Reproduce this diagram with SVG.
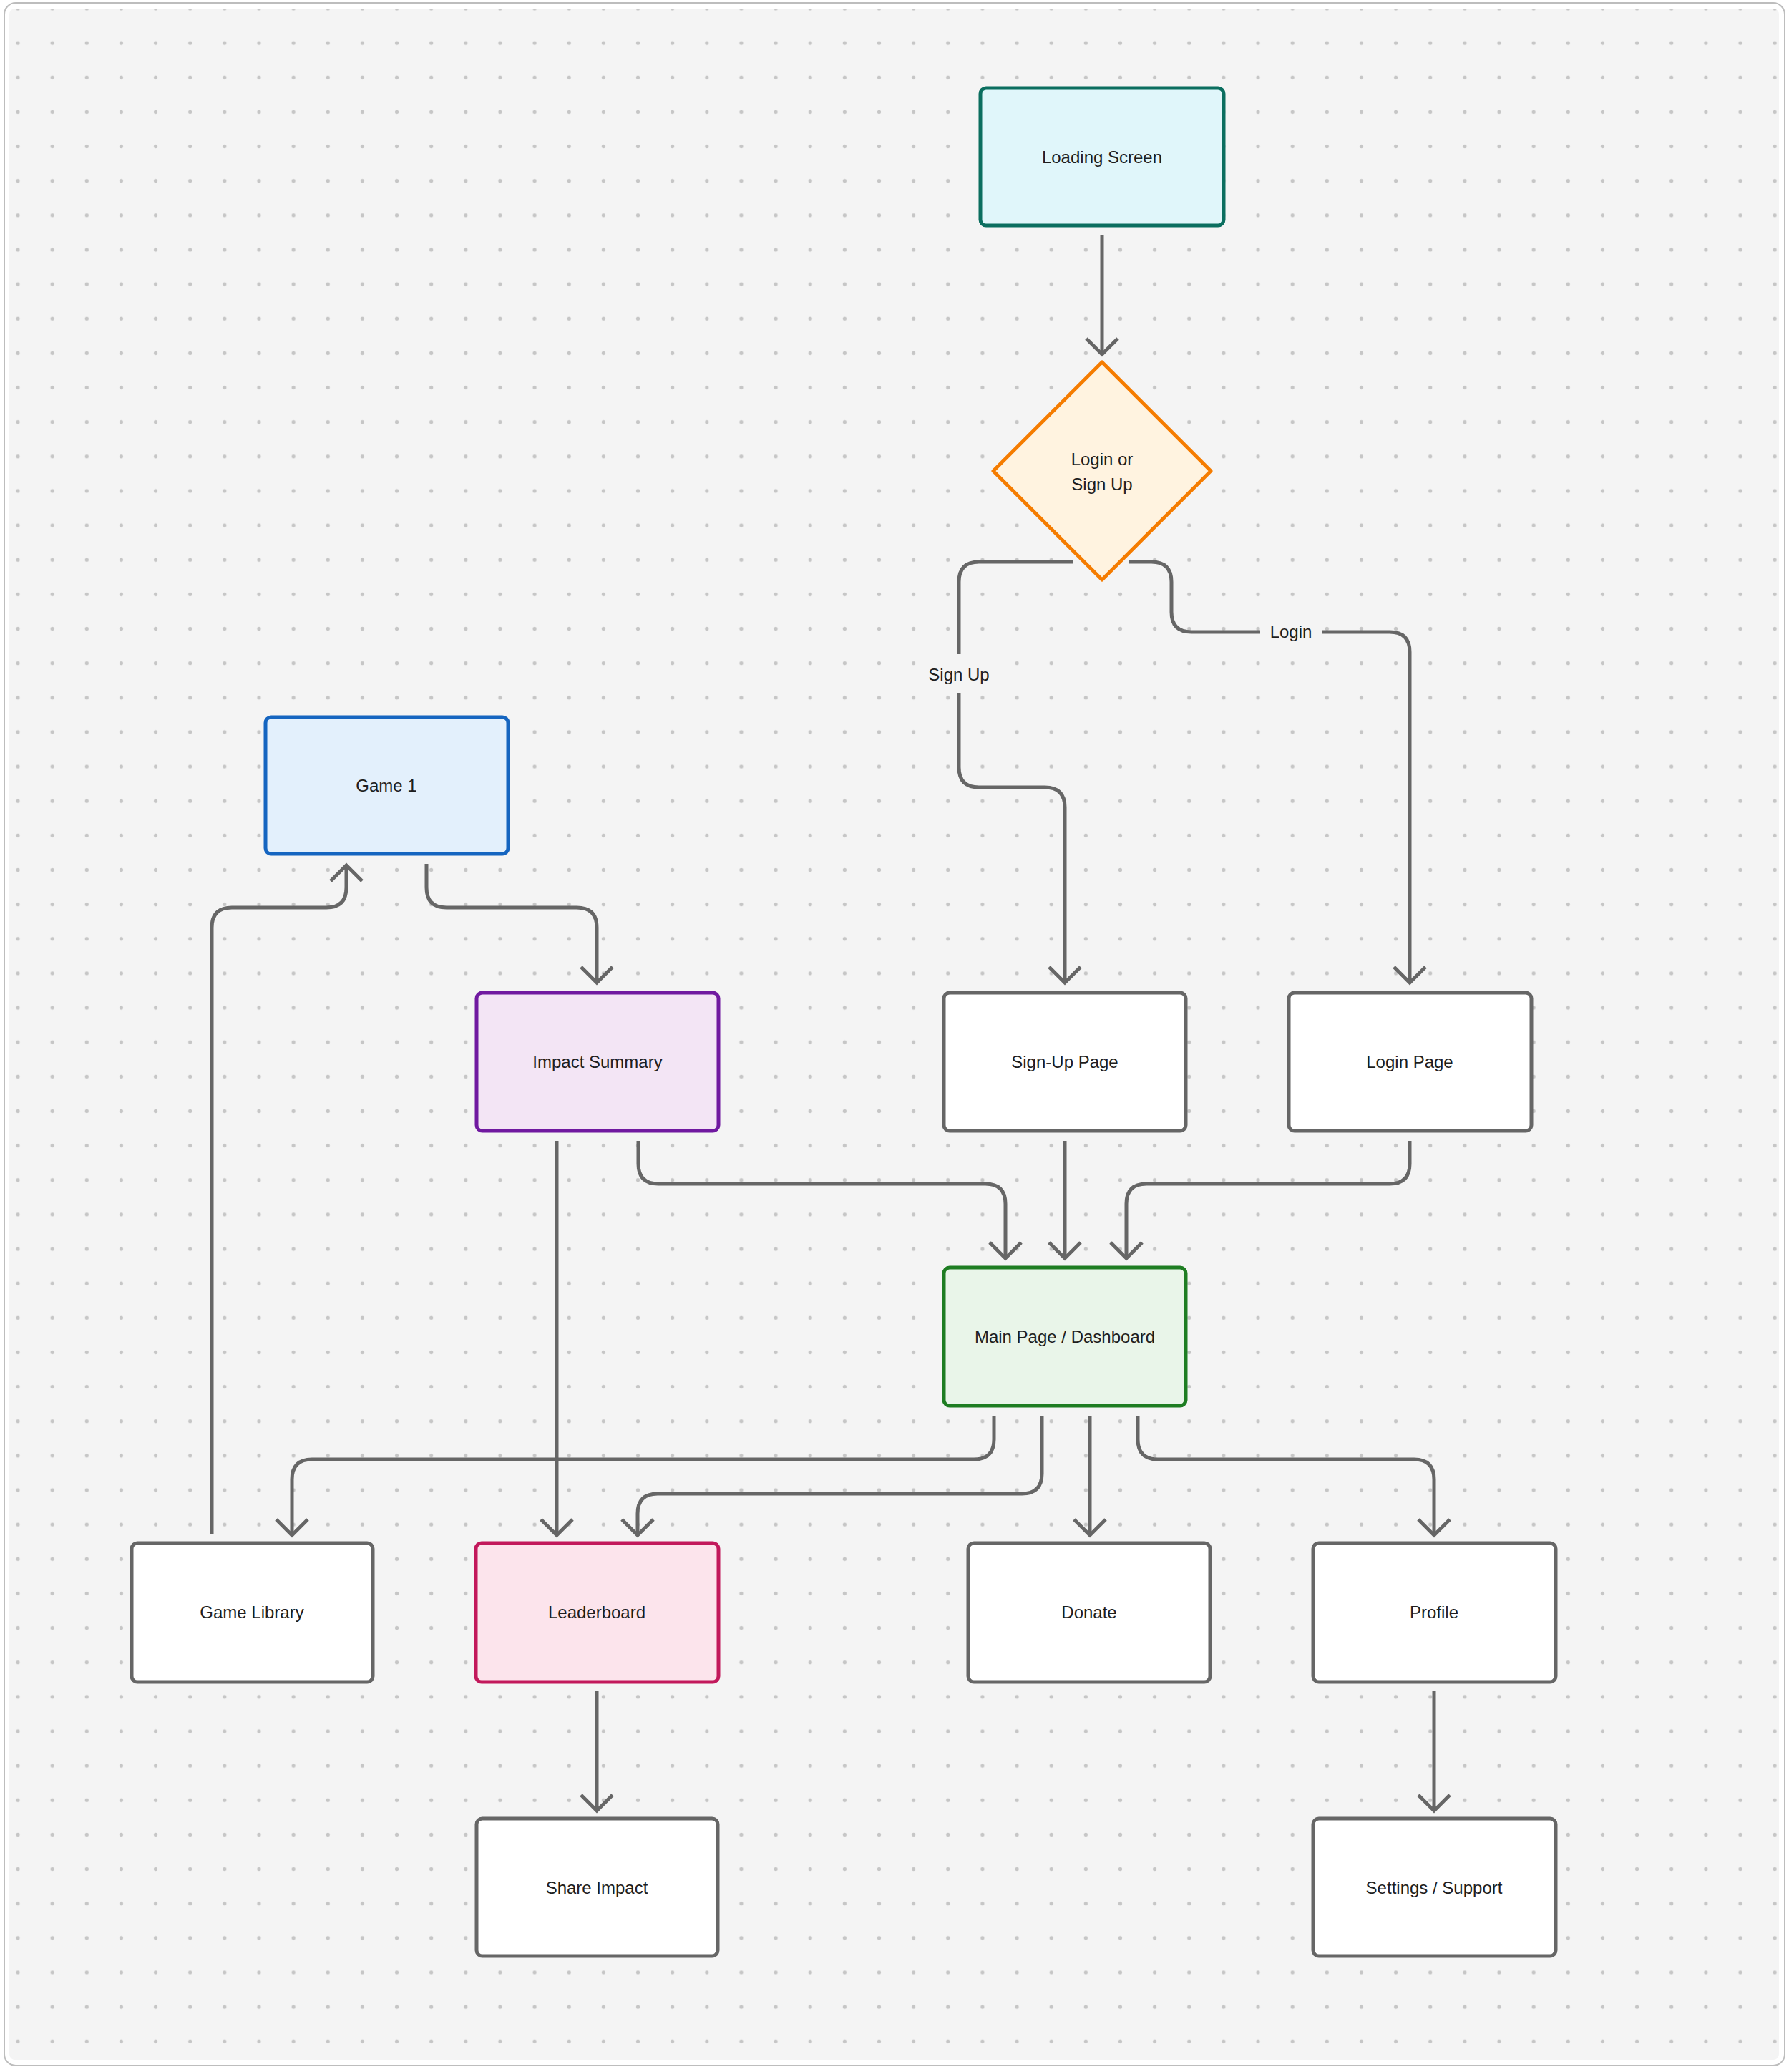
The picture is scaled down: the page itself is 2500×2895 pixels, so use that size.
<svg xmlns="http://www.w3.org/2000/svg" width="2500" height="2895" viewBox="0 0 2500 2895">
  <defs>
    <pattern id="dots" patternUnits="userSpaceOnUse" x="0.93" y="-12.07" width="48.14" height="48.14">
      <circle cx="24.07" cy="24.07" r="2.6" fill="#c6c6c6"/>
    </pattern>
    <marker id="arrow" markerUnits="userSpaceOnUse" markerWidth="60" markerHeight="60" refX="0" refY="0" viewBox="-30 -30 60 60" orient="auto" overflow="visible">
      <path d="M-22,-22 L0,0 L-22,22" fill="none" stroke="#666666" stroke-width="5" stroke-linejoin="miter"/>
    </marker>
  </defs>
  <style>
    .node rect, .node path.shape { stroke-width: 5; }
    .plain { fill: #ffffff; stroke: #666666; }
    .label { font-family: "Liberation Sans", Arial, sans-serif; font-size: 24px; fill: #1e1e1e; text-anchor: middle; }
    .edge { fill: none; stroke: #666666; stroke-width: 5; marker-end: url(#arrow); }
    .elabel-bg { fill: #f4f4f4; }
  </style>

  <!-- frame and background -->
  <rect x="0" y="0" width="2500" height="2895" fill="#ffffff"/>
  <rect x="6" y="4" width="2488" height="2882" rx="16" fill="#ffffff" stroke="#bdbdbd" stroke-width="2"/>
  <rect x="13" y="12" width="2473" height="2866" rx="8" fill="#f4f4f4"/>
  <rect x="13" y="12" width="2473" height="2866" rx="8" fill="url(#dots)"/>

  <!-- connectors -->
  <g id="connectors">
    <path class="edge" d="M1540,329 V495"/>
    <path class="edge" d="M1500,785 H1368 Q1340,785 1340,813 V1072 Q1340,1100 1368,1100 H1460 Q1488,1100 1488,1128 V1373"/>
    <path class="edge" d="M1578,785 H1609 Q1637,785 1637,813 V855 Q1637,883 1665,883 H1942 Q1970,883 1970,911 V1373"/>
    <path class="edge" d="M596,1207 V1240 Q596,1268 624,1268 H806 Q834,1268 834,1296 V1373"/>
    <path class="edge" d="M296,2143 V1296 Q296,1268 324,1268 H456 Q484,1268 484,1240 V1209"/>
    <path class="edge" d="M892,1594 V1626 Q892,1654 920,1654 H1377 Q1405,1654 1405,1682 V1758"/>
    <path class="edge" d="M1488,1594 V1758"/>
    <path class="edge" d="M1970,1594 V1626 Q1970,1654 1942,1654 H1602 Q1574,1654 1574,1682 V1758"/>
    <path class="edge" d="M778,1594 V2145"/>
    <path class="edge" d="M1389,1978 V2011 Q1389,2039 1361,2039 H436 Q408,2039 408,2067 V2145"/>
    <path class="edge" d="M1456,1978 V2059 Q1456,2087 1428,2087 H919 Q891,2087 891,2115 V2145"/>
    <path class="edge" d="M1523,1978 V2145"/>
    <path class="edge" d="M1590,1978 V2011 Q1590,2039 1618,2039 H1976 Q2004,2039 2004,2067 V2145"/>
    <path class="edge" d="M834,2363 V2530"/>
    <path class="edge" d="M2004,2363 V2530"/>
    <g id="edge-labels">
      <rect class="elabel-bg" x="1290" y="914" width="100" height="54"/>
      <text class="label" x="1340" y="951">Sign Up</text>
      <rect class="elabel-bg" x="1761" y="866" width="86" height="34"/>
      <text class="label" x="1804" y="891">Login</text>
    </g>
  </g>

  <!-- nodes -->
  <g id="node-loading" class="node">
    <rect x="1370" y="123" width="340" height="192" rx="8" fill="#e0f6fa" stroke="#0b6e5f"/>
    <text class="label" x="1540" y="228">Loading Screen</text>
  </g>
  <g id="node-decision" class="node">
    <path class="shape" d="M1540,506 L1692,658 L1540,810 L1388,658 Z" fill="#fff3e0" stroke="#f57c00" stroke-linejoin="round"/>
    <text class="label" x="1540" y="650">Login or</text>
    <text class="label" x="1540" y="685">Sign Up</text>
  </g>
  <g id="node-game1" class="node">
    <rect x="371" y="1002" width="339" height="191" rx="8" fill="#e3f0fc" stroke="#1565c0"/>
    <text class="label" x="540" y="1106">Game 1</text>
  </g>
  <g id="node-impact" class="node">
    <rect x="666" y="1387" width="338" height="193" rx="8" fill="#f3e5f5" stroke="#7019a0"/>
    <text class="label" x="835" y="1492">Impact Summary</text>
  </g>
  <g id="node-signup" class="node">
    <rect class="plain" x="1319" y="1387" width="338" height="193" rx="8"/>
    <text class="label" x="1488" y="1492">Sign-Up Page</text>
  </g>
  <g id="node-login" class="node">
    <rect class="plain" x="1801" y="1387" width="339" height="193" rx="8"/>
    <text class="label" x="1970" y="1492">Login Page</text>
  </g>
  <g id="node-main" class="node">
    <rect x="1319" y="1771" width="338" height="193" rx="8" fill="#e9f5e9" stroke="#1e7d22"/>
    <text class="label" x="1488" y="1876">Main Page / Dashboard</text>
  </g>
  <g id="node-gamelibrary" class="node">
    <rect class="plain" x="184" y="2156" width="337" height="194" rx="8"/>
    <text class="label" x="352" y="2261">Game Library</text>
  </g>
  <g id="node-leaderboard" class="node">
    <rect x="665" y="2156" width="339" height="194" rx="8" fill="#fce4ec" stroke="#c2185b"/>
    <text class="label" x="834" y="2261">Leaderboard</text>
  </g>
  <g id="node-donate" class="node">
    <rect class="plain" x="1353" y="2156" width="338" height="194" rx="8"/>
    <text class="label" x="1522" y="2261">Donate</text>
  </g>
  <g id="node-profile" class="node">
    <rect class="plain" x="1835" y="2156" width="339" height="194" rx="8"/>
    <text class="label" x="2004" y="2261">Profile</text>
  </g>
  <g id="node-share" class="node">
    <rect class="plain" x="666" y="2541" width="337" height="192" rx="8"/>
    <text class="label" x="834" y="2646">Share Impact</text>
  </g>
  <g id="node-settings" class="node">
    <rect class="plain" x="1835" y="2541" width="339" height="192" rx="8"/>
    <text class="label" x="2004" y="2646">Settings / Support</text>
  </g>
</svg>
